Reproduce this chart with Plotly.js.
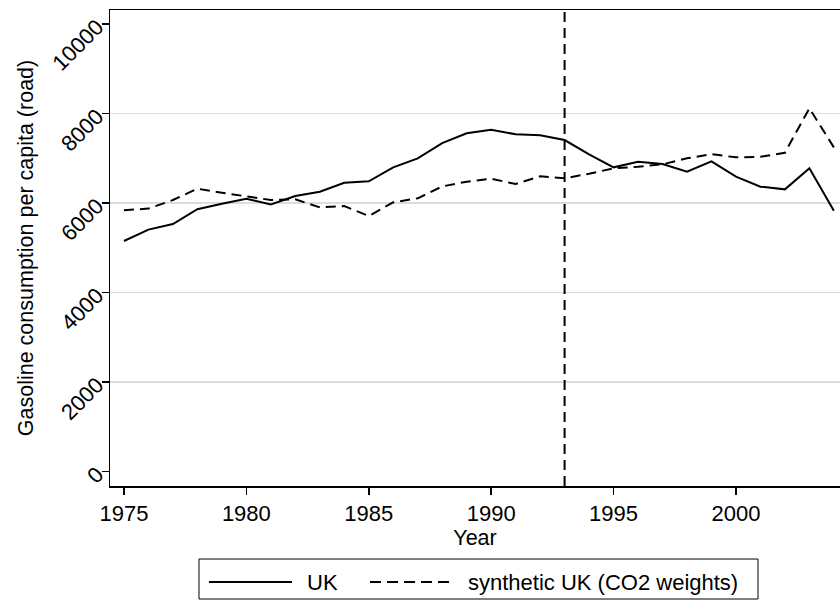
<!DOCTYPE html>
<html>
<head>
<meta charset="utf-8">
<script src="https://cdn.plot.ly/plotly-3.0.1.min.js"></script>
<style>html,body{margin:0;padding:0;background:#fff;}#chart{width:840px;height:600px;}</style>
</head>
<body>
<div id="chart"></div>
<script>
const years = [1975,1976,1977,1978,1979,1980,1981,1982,1983,1984,1985,1986,1987,1988,1989,1990,1991,1992,1993,1994,1995,1996,1997,1998,1999,2000,2001,2002,2003,2004];
const ukValues = [5155,5410,5535,5865,5990,6100,5970,6160,6257,6458,6489,6802,7003,7345,7562,7643,7540,7517,7412,7093,6802,6928,6876,6704,6935,6592,6369,6310,6779,5832];
const syntheticValues = [5841,5880,6071,6324,6235,6145,6071,6087,5908,5937,5714,6020,6109,6375,6480,6547,6429,6601,6556,6659,6779,6816,6869,7003,7095,7025,7039,7128,8120,7248];
const interventionYear = 1993;
const xTicks = [1975,1980,1985,1990,1995,2000];
const yTicks = [0,2000,4000,6000,8000,10000];
const yTickLabels = ["0","2000","4000","6000","8000","10000"];
const gridTicks = [2000,4000,6000,8000];
const seriesNames = ["UK","synthetic UK (CO2 weights)"];

const fam = "Liberation Sans, Arial, sans-serif";
const font = {family: fam, size: 22, color: "#000"};
const titleFont = {family: fam, size: 21.5, color: "#000"};
const yRange = [-320, 10318];
const dashPattern = "10px,6px";

const traces = [
  {x: [years[0]], y: [gridTicks[0]], yaxis: "y2", type: "scatter", mode: "none",
   showlegend: false, hoverinfo: "skip"},
  {x: years, y: ukValues, type: "scatter", mode: "lines", name: seriesNames[0],
   line: {color: "#000", width: 2}},
  {x: years, y: syntheticValues, type: "scatter", mode: "lines", name: seriesNames[1],
   line: {color: "#000", width: 2, dash: dashPattern}}
];

// custom legend (box, line samples and labels) in paper coordinates
const legY = -0.2017;
const layout = {
  width: 840, height: 600,
  margin: {l: 110, r: 0, t: 10, b: 114},
  paper_bgcolor: "#fff", plot_bgcolor: "#fff",
  font: font,
  showlegend: false,
  xaxis: {range: [1974.43, 2004.25], tickvals: xTicks, ticks: "outside", ticklen: 7,
          tickwidth: 1.5, tickcolor: "#000", showgrid: false, zeroline: false,
          showline: true, linecolor: "#000", linewidth: 1.5, mirror: true,
          tickfont: font, title: {text: "Year", font: titleFont, standoff: 0}},
  yaxis: {range: yRange, tickvals: yTicks, ticktext: yTickLabels, ticks: "outside", ticklen: 7,
          tickwidth: 1.5, tickcolor: "#000", showgrid: false, zeroline: false,
          showline: true, linecolor: "#000", linewidth: 1.5, mirror: true,
          tickangle: -45, tickfont: font,
          title: {text: "Gasoline consumption per capita (road)", font: titleFont, standoff: 8}},
  yaxis2: {range: yRange, overlaying: "y", tickvals: gridTicks, showgrid: true,
           gridcolor: "#dcdcdc", gridwidth: 1.5, showticklabels: false, ticks: "",
           zeroline: false, showline: false},
  shapes: [
    {type: "line", xref: "x", yref: "paper", x0: interventionYear, x1: interventionYear,
     y0: 0, y1: 1, line: {color: "#000", width: 2, dash: dashPattern}, layer: "above"},
    {type: "rect", xref: "paper", yref: "paper", x0: 0.1219, x1: 0.8877, y0: -0.2374, y1: -0.1534,
     line: {color: "#000", width: 1}, fillcolor: "rgba(0,0,0,0)"},
    {type: "line", xref: "paper", yref: "paper", x0: 0.1356, x1: 0.2493, y0: legY, y1: legY,
     line: {color: "#000", width: 2}},
    {type: "line", xref: "paper", yref: "paper", x0: 0.3562, x1: 0.4699, y0: legY, y1: legY,
     line: {color: "#000", width: 2, dash: "11px,6px"}}
  ],
  annotations: [
    {xref: "paper", yref: "paper", x: 0.2665, y: legY, xanchor: "left", yanchor: "middle",
     text: seriesNames[0], showarrow: false, font: font},
    {xref: "paper", yref: "paper", x: 0.4870, y: legY, xanchor: "left", yanchor: "middle",
     text: seriesNames[1], showarrow: false, font: font}
  ]
};

Plotly.newPlot("chart", traces, layout, {displayModeBar: false, staticPlot: true});
</script>
</body>
</html>
